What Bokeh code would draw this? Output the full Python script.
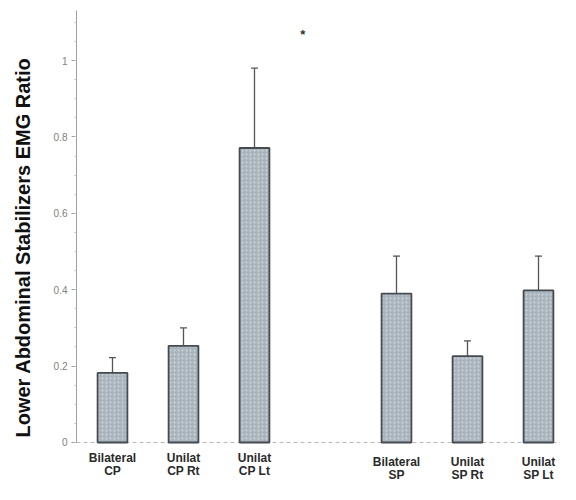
from bokeh.plotting import figure
from bokeh.models import Range1d, Whisker, ColumnDataSource, FixedTicker, TeeHead
from bokeh.core.properties import value
from bokeh.embed import file_html
from bokeh.resources import INLINE

# ---- data ----
labels_top = ["Bilateral", "Unilat", "Unilat", "Bilateral", "Unilat", "Unilat"]
labels_bottom = ["CP", "CP Rt", "CP Lt", "SP", "SP Rt", "SP Lt"]
groups = ["CP", "CP", "CP", "SP", "SP", "SP"]
positions = [1, 2, 3, 5, 6, 7]
means = [0.182, 0.253, 0.771, 0.390, 0.226, 0.398]
errors = [0.040, 0.047, 0.209, 0.098, 0.040, 0.090]
y_ticks = [0, 0.2, 0.4, 0.6, 0.8, 1.0]
y_tick_labels = ["0", "0.2", "0.4", "0.6", "0.8", "1"]
y_title = "Lower Abdominal Stabilizers EMG Ratio"
star_text = ["*"]
star_x = [3.68]
star_y = [1.068]

# label vertical offsets (px) per group: first line, second line
offs1 = {"CP": 16, "SP": 20}
offs2 = {"CP": 29, "SP": 33}

upper = [m + e for m, e in zip(means, errors)]
src = ColumnDataSource(dict(
    x=positions, top=means, upper=upper,
    lt=labels_top, lb=labels_bottom,
    o1=[offs1[g] for g in groups], o2=[offs2[g] for g in groups],
    zero=[0] * len(positions),
))

x0, x1 = 0.493, 7.31
y_top = 1.131
p = figure(width=560, height=484, output_backend="svg", toolbar_location=None,
           x_range=Range1d(x0, x1), y_range=Range1d(-0.110, y_top),
           x_axis_location=None, min_border_left=76, min_border_right=0,
           min_border_top=10, min_border_bottom=0)
p.outline_line_color = None
p.xgrid.visible = False
p.ygrid.visible = False
p.background_fill_color = "white"

# baseline at zero
p.line(x=[x0, x1], y=[0, 0], line_color="#b8b8b8", line_width=1, line_dash="4 3")

# bars
p.vbar(x="x", top="top", bottom=0, width=0.42, source=src,
       fill_color="#aab4bc", line_color="#454b51", line_width=1.8,
       hatch_pattern="dot", hatch_color="#e4eaee", hatch_alpha=0.6, hatch_scale=4)

# error bars (upper only)
w = Whisker(base="x", lower="top", upper="upper", source=src, dimension="height",
            line_color="#555555", line_width=1.3,
            upper_head=TeeHead(size=7, line_color="#555555", line_width=1.3),
            lower_head=None)
p.add_layout(w)

# x labels
for col, off in (("lt", "o1"), ("lb", "o2")):
    p.text(x="x", y="zero", text=col, y_offset=off, source=src,
           text_align="center", text_baseline="middle",
           text_font=value("Liberation Sans"), text_font_style="bold",
           text_font_size="12px", text_color="#2a2a2a")

# significance marker
p.text(x=star_x, y=star_y, text=star_text, text_align="center", text_baseline="middle",
       text_font=value("Liberation Sans"), text_font_style="bold",
       text_font_size="13px", text_color="#333333")

# y axis
ax = p.yaxis[0]
ax.bounds = (0, y_top)
ax.ticker = FixedTicker(ticks=y_ticks, minor_ticks=[i * 0.05 for i in range(23)])
ax.major_label_overrides = {t: l for t, l in zip(y_ticks, y_tick_labels)}
ax.major_label_text_font = "Liberation Sans"
ax.major_label_text_font_size = "10px"
ax.major_label_text_color = "#808080"
ax.major_label_standoff = 4
ax.major_tick_out = 5
ax.major_tick_in = 0
ax.minor_tick_out = 2
ax.minor_tick_in = 0
ax.axis_line_color = "#a0a0a0"
ax.major_tick_line_color = "#a0a0a0"
ax.minor_tick_line_color = "#c0c0c0"
ax.axis_label = y_title
ax.axis_label_text_font = "Liberation Sans"
ax.axis_label_text_font_style = "bold"
ax.axis_label_text_font_size = "20px"
ax.axis_label_text_color = "#111111"
ax.axis_label_standoff = 17

open("out.html", "w").write(file_html(p, INLINE))
